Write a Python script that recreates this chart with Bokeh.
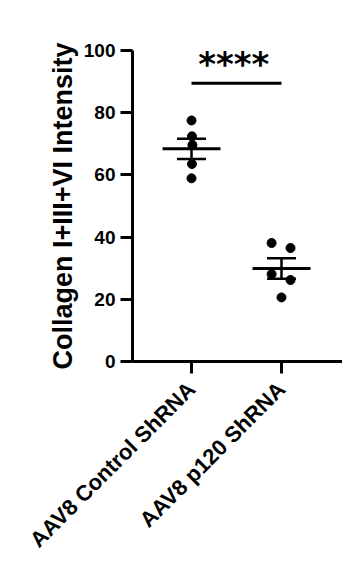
import numpy as np
from bokeh.plotting import figure
from bokeh.models import Range1d, FixedTicker, ColumnDataSource
from bokeh.core.properties import value
from bokeh.embed import file_html
from bokeh.resources import INLINE

# ---- data ----
categories = ["AAV8 Control ShRNA", "AAV8 p120 ShRNA"]
control_vals = [77.5, 72.4, 69.6, 63.5, 58.9]
control_offsets = [0.0, 0.005, 0.01, 0.005, 0.0]
p120_vals = [38.1, 36.5, 28.1, 26.2, 20.6]
p120_offsets = [-0.11, 0.10, -0.11, 0.10, 0.0]
y_ticks = [0, 20, 40, 60, 80, 100]
sig_label = "****"
sig_y = 89.5
sig_text_y = 95.5
y_title = "Collagen I+III+VI Intensity"

FONT = "Liberation Sans"

p = figure(width=342, height=569, output_backend="svg", toolbar_location=None,
           x_range=Range1d(0.344, 2.678), y_range=Range1d(0, 100),
           min_border_left=132, min_border_top=50, min_border_bottom=208,
           min_border_right=0)
p.background_fill_color = "white"
p.border_fill_color = "white"
p.outline_line_color = None
p.grid.visible = False

groups = [control_vals, p120_vals]
offsets = [control_offsets, p120_offsets]

for i, (vals, offs) in enumerate(zip(groups, offsets)):
    xc = i + 1
    arr = np.array(vals)
    m = arr.mean()
    sem = arr.std(ddof=1) / np.sqrt(len(arr))
    src = ColumnDataSource(dict(x=[xc + o for o in offs], y=vals))
    p.scatter("x", "y", source=src, size=9, fill_color="black", line_color="black")
    # mean line
    p.segment(x0=[xc - 0.322], x1=[xc + 0.322], y0=[m], y1=[m],
              line_color="black", line_width=3)
    # sem whisker
    p.segment(x0=[xc], x1=[xc], y0=[m - sem], y1=[m + sem],
              line_color="black", line_width=2.5)
    p.segment(x0=[xc - 0.161, xc - 0.161], x1=[xc + 0.161, xc + 0.161],
              y0=[m - sem, m + sem], y1=[m - sem, m + sem],
              line_color="black", line_width=2.5)

# significance
p.segment(x0=[1], x1=[2], y0=[sig_y], y1=[sig_y], line_color="black", line_width=3)
p.text(x=[1.47], y=[sig_text_y], text=[sig_label], text_align="center",
       text_baseline="middle", text_font=value("DejaVu Sans"),
       text_font_style="bold", text_font_size="34px", text_color="black")

# axes
for ax in (p.xaxis[0], p.yaxis[0]):
    ax.axis_line_width = 3
    ax.axis_line_color = "black"
    ax.major_tick_line_width = 3
    ax.major_tick_line_color = "black"
    ax.major_tick_in = 0
    ax.minor_tick_line_color = None
    ax.major_label_text_font = FONT
    ax.major_label_text_font_style = "bold"
    ax.major_label_text_color = "black"

p.yaxis.ticker = FixedTicker(ticks=y_ticks)
p.yaxis.major_tick_out = 12
p.yaxis.major_label_standoff = 5
p.yaxis.major_label_text_font_size = "19px"
p.yaxis.axis_label = y_title
p.yaxis.axis_label_text_font = FONT
p.yaxis.axis_label_text_font_style = "bold"
p.yaxis.axis_label_text_font_size = "27px"
p.yaxis.axis_label_text_color = "black"
p.yaxis.axis_label_standoff = 3

p.xaxis.ticker = FixedTicker(ticks=[1, 2])
p.xaxis.major_label_overrides = {1: categories[0], 2: categories[1]}
p.xaxis.major_tick_out = 12
p.xaxis.major_label_standoff = 12
p.xaxis.major_label_orientation = np.pi / 4
p.xaxis.major_label_text_font_size = "22px"

open("out.html", "w").write(file_html(p, INLINE))
